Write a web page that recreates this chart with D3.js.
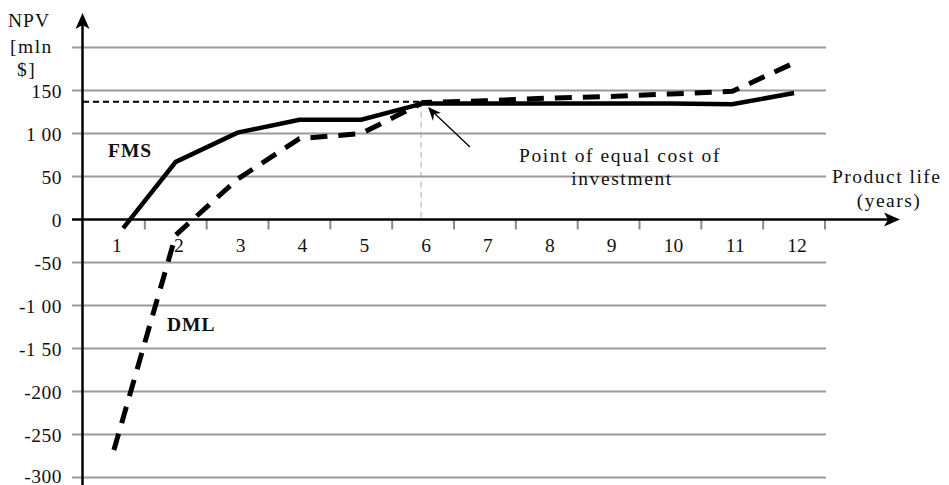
<!DOCTYPE html>
<html><head><meta charset="utf-8">
<script src="https://cdn.jsdelivr.net/npm/d3@7"></script>
<style>body{margin:0;background:#fff}svg{display:block}</style>
</head><body>
<svg id="c" width="949" height="485" font-family="'Liberation Serif', Tinos, 'DejaVu Serif', serif"></svg>
<script>
const years = [1,2,3,4,5,6,7,8,9,10,11,12];
const fmsYears = [1.15,2,3,4,5,6,7,8,9,10,11,12];
const fmsValues = [-10,67,101,116,116,135,135,135,135,135,134,147];
const dmlValues = [-268,-18,47,94,100,136,138,141,143,146,149,182];
const yTicks = [200,150,100,50,0,-50,-100,-150,-200,-250,-300];
const yLabels = ["150","1 00","50","0","-50","-1 00","-1 50","-200","-250","-300"];
const equalValue = 137, equalYear = 6;

const svg = d3.select("#c");
const x = d3.scaleLinear().domain([0.5,12.5]).range([83,825]);
const y = d3.scaleLinear().domain([-300,200]).range([477.5,47.5]);
const FS = 19.5;

// gridlines
svg.append("g").selectAll("line").data(yTicks.filter(d=>d!==0)).join("line")
  .attr("x1",72).attr("x2",826).attr("y1",d=>y(d)).attr("y2",d=>y(d))
  .attr("stroke","#9a9a9a").attr("stroke-width",2);

// tick labels y
svg.append("g").selectAll("text").data(yTicks.filter(d=>d!==200)).join("text")
  .attr("x",62).attr("y",d=>y(d)+(d===-300?5:7)).attr("text-anchor","end")
  .attr("font-size",FS).attr("letter-spacing",0.5).attr("fill","#111").text((d,i)=>yLabels[i]);

// x ticks
svg.append("g").selectAll("line").data(years.map(d=>d+0.5)).join("line")
  .attr("x1",d=>x(d)).attr("x2",d=>x(d)).attr("y1",y(0)).attr("y2",y(0)+10)
  .attr("stroke","#8a8a8a").attr("stroke-width",2);
svg.append("g").selectAll("text").data(years).join("text")
  .attr("x",d=>x(d)+3).attr("y",252).attr("text-anchor","middle")
  .attr("font-size",FS).attr("fill","#111").text(d=>d);

// vertical thin dashed line
svg.append("line").attr("x1",x(equalYear)-2).attr("x2",x(equalYear)-2)
  .attr("y1",y(equalValue)).attr("y2",y(0))
  .attr("stroke","#aaa").attr("stroke-width",1).attr("stroke-dasharray","6,4");
// horizontal dashed line
svg.append("line").attr("x1",83).attr("x2",x(equalYear)).attr("y1",y(equalValue)).attr("y2",y(equalValue))
  .attr("stroke","#000").attr("stroke-width",2).attr("stroke-dasharray","6,4");

// axes
svg.append("line").attr("x1",72).attr("x2",892).attr("y1",y(0)).attr("y2",y(0)).attr("stroke","#000").attr("stroke-width",2.5);
svg.append("path").attr("d",`M900,${y(0)} L884,${y(0)-7} L888,${y(0)} L884,${y(0)+7} Z`).attr("fill","#000");
svg.append("line").attr("x1",82.5).attr("x2",82.5).attr("y1",485).attr("y2",20).attr("stroke","#000").attr("stroke-width",2.5);
svg.append("path").attr("d",`M82.5,13 L75.5,29 L82.5,25 L89.5,29 Z`).attr("fill","#000");

// lines
const line = d3.line().x(d=>x(d[0])).y(d=>y(d[1]));
svg.append("path").datum(fmsYears.map((d,i)=>[d,fmsValues[i]])).attr("d",line)
  .attr("fill","none").attr("stroke","#000").attr("stroke-width",4.5).attr("stroke-linejoin","miter");
svg.append("path").datum(years.map((d,i)=>[d,dmlValues[i]])).attr("d",line)
  .attr("fill","none").attr("stroke","#000").attr("stroke-width",5).attr("stroke-dasharray","17,11");

// annotation arrow
svg.append("line").attr("x1",470).attr("y1",147).attr("x2",432).attr("y2",111).attr("stroke","#000").attr("stroke-width",1.3);
svg.append("path").attr("d","M428,107 L441,113 L434,114 L433,121 Z").attr("fill","#000");

// texts
const t = (xx,yy,s,opt={})=>svg.append("text").attr("x",xx).attr("y",yy).attr("font-size",FS).attr("fill","#111")
  .attr("text-anchor",opt.anchor||"start").attr("letter-spacing",opt.ls||0).attr("font-weight",opt.bold?"bold":"normal").text(s);
t(620,162,"Point of equal cost of",{anchor:"middle",ls:1.6});
t(622,185,"investment",{anchor:"middle",ls:1.6});
t(832,183,"Product life",{ls:1.5});
t(889,207,"(years)",{anchor:"middle",ls:1.5});
t(8,27,"NPV",{ls:1});
t(10,53,"[mln",{ls:1.5});
t(17,76,"$]",{ls:1.5});
t(108,157,"FMS",{bold:true,ls:1});
t(167,331,"DML",{bold:true,ls:1});
</script>
</body></html>
